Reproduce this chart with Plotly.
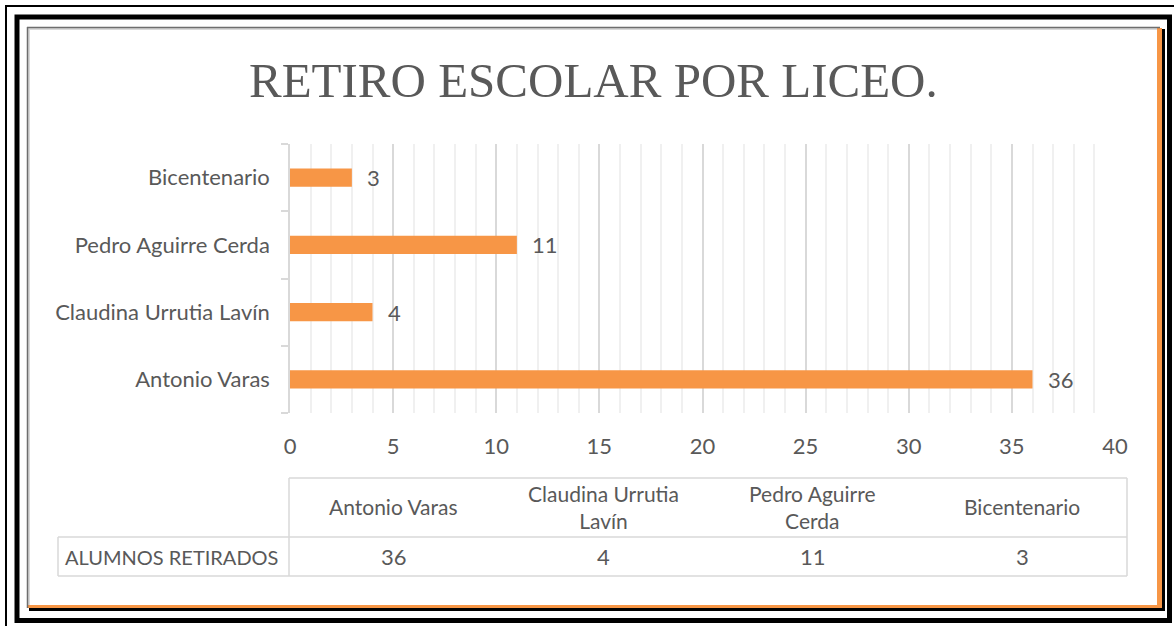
import plotly.graph_objects as go

# ---------------- data ----------------
categories = ["Antonio Varas", "Claudina Urrutia Lavín", "Pedro Aguirre Cerda", "Bicentenario"]
alumnos_retirados = [36, 4, 11, 3]
series_name = "ALUMNOS RETIRADOS"
title_text = "RETIRO ESCOLAR POR LICEO."
x_ticks = [0, 5, 10, 15, 20, 25, 30, 35, 40]

W, H = 1174, 626
def X(px):
    return px / W
def Y(py):
    return 1 - py / H

TXT = "#595959"
ORANGE = "#F79646"
FONT = "Lato"
FS = 22

fig = go.Figure()
fig.add_trace(go.Bar(
    x=alumnos_retirados, y=categories, orientation="h",
    marker=dict(color=ORANGE, line=dict(width=0)),
    name=series_name, showlegend=False, hoverinfo="x+y",
))

shapes = []
# outer thin frame
shapes.append(dict(type="line", xref="paper", yref="paper", x0=X(5), x1=X(1174), y0=Y(6), y1=Y(6),
                   line=dict(color="black", width=2)))
shapes.append(dict(type="line", xref="paper", yref="paper", x0=X(6), x1=X(6), y0=Y(5), y1=Y(626),
                   line=dict(color="black", width=2)))
# thick frame
shapes.append(dict(type="rect", xref="paper", yref="paper", x0=X(17), x1=X(1169.5), y0=Y(17), y1=Y(620.5),
                   line=dict(color="black", width=5), layer="below"))
# chart area shadow (black, orange) and white area
shapes.append(dict(type="rect", xref="paper", yref="paper", x0=X(29), x1=X(1165), y0=Y(29), y1=Y(611),
                   fillcolor="black", line=dict(width=0), layer="below"))
shapes.append(dict(type="rect", xref="paper", yref="paper", x0=X(28), x1=X(1162), y0=Y(28), y1=Y(608),
                   fillcolor=ORANGE, line=dict(width=0), layer="below"))
shapes.append(dict(type="rect", xref="paper", yref="paper", x0=X(28), x1=X(1157), y0=Y(28), y1=Y(605),
                   fillcolor="#D9D9D9", line=dict(width=0), layer="below"))
shapes.append(dict(type="rect", xref="paper", yref="paper", x0=X(30), x1=X(1157), y0=Y(30), y1=Y(605),
                   fillcolor="white", line=dict(width=0), layer="below"))
shapes.append(dict(type="line", xref="paper", yref="paper", x0=X(27), x1=X(1160), y0=Y(27.5), y1=Y(27.5),
                   line=dict(color="#6E6E6E", width=1.5), layer="below"))
shapes.append(dict(type="line", xref="paper", yref="paper", x0=X(27.5), x1=X(27.5), y0=Y(27), y1=Y(608),
                   line=dict(color="#6E6E6E", width=1.5), layer="below"))

# data table
TL, TC0, TC1 = 58, 289, 1127
TY0, TY1, TY2 = 478, 537, 576
GRID = "#D9D9D9"
def hline(x0, x1, y):
    shapes.append(dict(type="line", xref="paper", yref="paper", x0=X(x0), x1=X(x1), y0=Y(y), y1=Y(y),
                       line=dict(color=GRID, width=1.5)))
def vline(x, y0, y1):
    shapes.append(dict(type="line", xref="paper", yref="paper", x0=X(x), x1=X(x), y0=Y(y0), y1=Y(y1),
                       line=dict(color=GRID, width=1.5)))
hline(TC0, TC1, TY0)
hline(TL, TC1, TY1)
hline(TL, TC1, TY2)
vline(TC0, TY0, TY2)
vline(TC1, TY0, TY2)
vline(TL, TY1, TY2)

annotations = []
annotations.append(dict(text=title_text, xref="paper", yref="paper", x=X(593), y=Y(80),
                        xanchor="center", yanchor="middle", showarrow=False,
                        font=dict(family="Liberation Serif", size=49, color=TXT)))

# value labels next to bars
for c, v in zip(categories, alumnos_retirados):
    annotations.append(dict(text=str(v), x=v, y=c, xref="x", yref="y", xanchor="left", yanchor="middle",
                            xshift=13, showarrow=False, font=dict(family=FONT, size=FS, color=TXT)))

def wrap(s, maxlen=17):
    words, lines, cur = s.split(), [], ""
    for w in words:
        if cur and len(cur) + 1 + len(w) > maxlen:
            lines.append(cur)
            cur = w
        else:
            cur = (cur + " " + w).strip()
    lines.append(cur)
    return "<br>".join(lines)

ncol = len(categories)
colw = (TC1 - TC0) / ncol
for i, (c, v) in enumerate(zip(categories, alumnos_retirados)):
    cx = TC0 + colw * (i + 0.5)
    annotations.append(dict(text=wrap(c), xref="paper", yref="paper", x=X(cx), y=Y((TY0 + TY1) / 2 - 1),
                            xanchor="center", yanchor="middle", showarrow=False,
                            font=dict(family=FONT, size=FS - 1, color=TXT)))
    annotations.append(dict(text=str(v), xref="paper", yref="paper", x=X(cx), y=Y((TY1 + TY2) / 2),
                            xanchor="center", yanchor="middle", showarrow=False,
                            font=dict(family=FONT, size=FS, color=TXT)))
annotations.append(dict(text=series_name, xref="paper", yref="paper", x=X(TL + 5), y=Y((TY1 + TY2) / 2),
                        xanchor="left", yanchor="middle", showarrow=False,
                        font=dict(family=FONT, size=20, color=TXT)))

fig.update_layout(
    width=W, height=H,
    margin=dict(l=0, r=0, t=0, b=0),
    paper_bgcolor="white", plot_bgcolor="rgba(0,0,0,0)",
    bargap=0.73,
    shapes=shapes, annotations=annotations,
    font=dict(family=FONT, color=TXT, size=FS),
    xaxis=dict(domain=[X(290), X(1115)], range=[0, 40], tickvals=x_ticks,
               showgrid=True, gridcolor="#D9D9D9", gridwidth=1.5,
               minor=dict(dtick=1, showgrid=True, gridcolor="#F0F0F0", gridwidth=1.5),
               zeroline=False, showline=False, ticks="", ticklabelstandoff=18,
               tickfont=dict(family=FONT, size=FS, color=TXT), automargin=False, fixedrange=True),
    yaxis=dict(domain=[Y(413), Y(144)], categoryorder="array", categoryarray=categories,
               showline=True, linecolor="#D9D9D9", linewidth=1.5, tickson="boundaries",
               ticks="outside", ticklen=7, tickcolor="#D9D9D9", tickwidth=1.5,
               showgrid=False, ticklabelstandoff=14,
               tickfont=dict(family=FONT, size=FS, color=TXT), automargin=False, fixedrange=True),
)

fig.write_html("out.html", config={"displayModeBar": False},
               post_script="document.body.style.margin='0px';document.body.style.overflow='hidden';")
